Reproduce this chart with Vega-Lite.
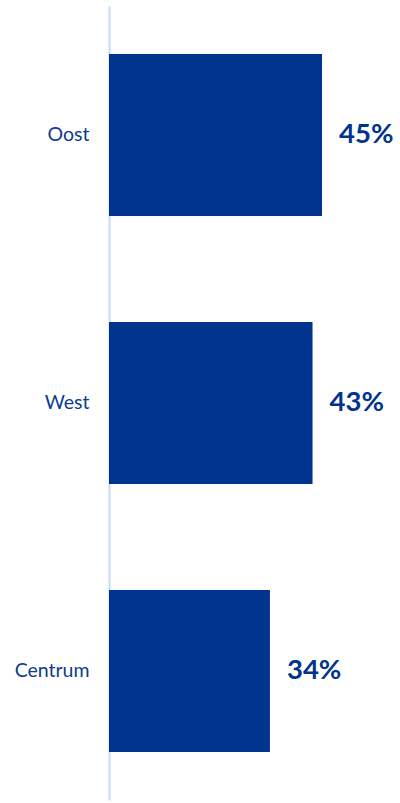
{
  "$schema": "https://vega.github.io/schema/vega-lite/v6.json",
  "autosize": "none",
  "padding": {"left": 109, "top": 6, "right": 0, "bottom": 3},
  "width": 291,
  "height": 794,
  "background": "white",
  "config": {"view": {"stroke": null}},
  "data": {"values": [
    {"regio": "Oost", "aandeel": 0.45},
    {"regio": "West", "aandeel": 0.43},
    {"regio": "Centrum", "aandeel": 0.34}
  ]},
  "encoding": {
    "y": {"field": "regio", "type": "nominal", "sort": null,
      "scale": {"paddingInner": 0.395, "paddingOuter": 0.179},
      "axis": {"title": null, "ticks": false, "labelPadding": 20, "labelFont": "Lato", "labelFontSize": 19.5, "labelColor": "#0D3B8E", "domainColor": "#C5DAF6", "domainWidth": 2, "grid": false}},
    "x": {"field": "aandeel", "type": "quantitative", "scale": {"domain": [0, 0.6148], "nice": false}, "axis": null}
  },
  "layer": [
    {"mark": {"type": "bar", "color": "#00348E"}},
    {"mark": {"type": "text", "align": "left", "dx": 17, "font": "Lato", "fontSize": 27.5, "fontWeight": "bold", "color": "#00348E"},
     "encoding": {"text": {"field": "aandeel", "type": "quantitative", "format": ".0%"}}}
  ]
}
